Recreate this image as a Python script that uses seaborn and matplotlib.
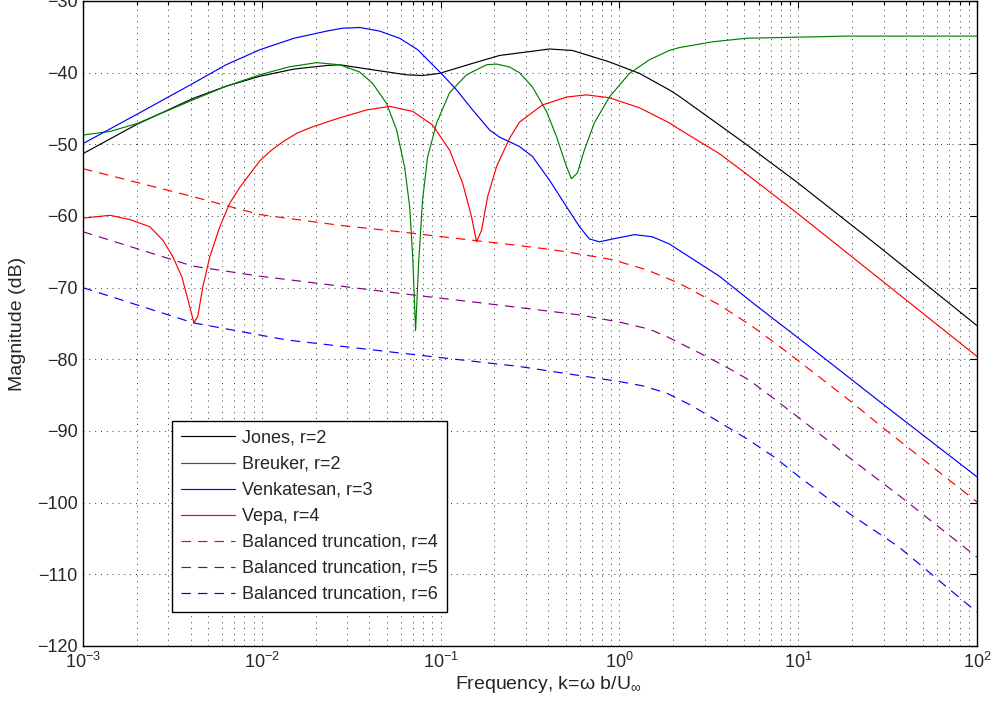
import numpy as np
import matplotlib
matplotlib.use("Agg")
import matplotlib.pyplot as plt
import seaborn as sns

# -------------------------------------------------------------
# Data: log10 of reduced frequency k, magnitude in dB
# -------------------------------------------------------------
jones_logk = [-3.000, -2.698, -2.385, -2.200, -2.011, -1.820, -1.637, -1.564,
              -1.380, -1.190, -1.101, -1.006, -0.821, -0.670, -0.391, -0.263,
              -0.056, 0.112, 0.279, 0.335, 0.559, 0.709, 0.989, 1.453, 2.000]
jones_db = [-51.3, -47.2, -43.6, -41.9, -40.5, -39.5, -39.0, -38.9,
            -39.6, -40.3, -40.4, -40.1, -38.7, -37.6, -36.7, -36.9,
            -38.5, -40.1, -42.4, -43.3, -47.3, -50.0, -55.2, -64.3, -75.3]

breuker_logk = [-3.000, -2.849, -2.698, -2.385, -2.200, -2.011, -1.850, -1.693,
                -1.564, -1.453, -1.380, -1.302, -1.246, -1.201, -1.173, -1.156,
                -1.140, -1.123, -1.101, -1.073, -1.022, -0.950, -0.855, -0.743,
                -0.687, -0.615, -0.559, -0.486, -0.408, -0.352, -0.296, -0.268,
                -0.235, -0.196, -0.140, -0.056, 0.056, 0.168, 0.279, 0.335,
                0.520, 0.709, 1.268, 2.000]
breuker_db = [-48.7, -48.2, -47.1, -43.8, -41.9, -40.3, -39.2, -38.6,
              -38.9, -39.9, -41.5, -44.3, -48.0, -53.2, -58.7, -65.7,
              -76.0, -66.6, -57.8, -51.8, -47.0, -42.8, -40.3, -38.9,
              -38.8, -39.2, -40.0, -42.0, -45.4, -48.9, -53.1, -54.8,
              -54.0, -50.8, -47.0, -43.4, -40.1, -38.2, -36.9, -36.5,
              -35.7, -35.2, -34.9, -34.9]

venk_logk = [-3.000, -2.698, -2.385, -2.200, -2.011, -1.820, -1.637, -1.550,
             -1.450, -1.341, -1.229, -1.128, -0.989, -0.911, -0.821, -0.726,
             -0.670, -0.559, -0.486, -0.391, -0.296, -0.223, -0.168, -0.112,
             -0.017, 0.084, 0.184, 0.279, 0.559, 0.750, 0.989, 1.190, 1.497,
             2.000]
venk_db = [-49.9, -45.8, -41.5, -38.9, -36.8, -35.2, -34.2, -33.8,
           -33.7, -34.2, -35.2, -36.8, -40.3, -42.4, -45.2, -48.0,
           -49.0, -50.3, -51.7, -55.0, -58.7, -61.5, -63.2, -63.6,
           -63.1, -62.6, -62.9, -63.9, -68.4, -72.2, -76.8, -80.7, -86.7,
           -96.4]

vepa_logk = [-3.000, -2.849, -2.737, -2.626, -2.553, -2.497, -2.447, -2.413,
             -2.380, -2.358, -2.330, -2.291, -2.235, -2.179, -2.123, -2.011,
             -1.950, -1.880, -1.800, -1.720, -1.637, -1.564, -1.413, -1.285,
             -1.156, -1.045, -0.950, -0.877, -0.827, -0.799, -0.771, -0.737,
             -0.687, -0.615, -0.559, -0.430, -0.296, -0.184, -0.056, 0.112,
             0.279, 0.335, 0.559, 0.709, 0.989, 2.000]
vepa_db = [-60.3, -59.9, -60.5, -61.5, -63.4, -65.7, -68.5, -71.7,
           -74.9, -74.0, -69.9, -65.7, -61.5, -58.2, -56.0, -52.3,
           -50.9, -49.6, -48.4, -47.6, -46.9, -46.3, -45.2, -44.7,
           -45.4, -47.3, -50.8, -55.4, -60.1, -63.6, -62.0, -57.3,
           -53.1, -49.2, -46.9, -44.5, -43.4, -43.1, -43.5, -44.9,
           -47.0, -47.9, -51.3, -54.1, -59.5, -79.6]

bt4_logk = [-3.000, -2.385, -2.011, -1.564, -1.229, -0.782, -0.670, -0.408,
            -0.296, -0.039, 0.151, 0.240, 0.335, 0.559, 0.743, 0.880,
            1.006, 1.285, 1.492, 2.000]
bt4_db = [-53.4, -57.3, -59.8, -61.3, -62.2, -63.5, -63.8, -64.6,
          -65.0, -66.1, -67.5, -68.4, -69.4, -72.4, -75.4, -77.9,
          -80.3, -85.7, -89.9, -99.9]

bt5_logk = [-3.000, -2.385, -2.011, -1.229, -0.782, -0.223, 0.000, 0.168,
            0.263, 0.447, 0.600, 0.726, 0.860, 1.006, 1.150, 1.285,
            1.564, 2.000]
bt5_db = [-62.2, -67.0, -68.4, -70.8, -72.1, -73.8, -74.8, -75.8,
          -76.8, -79.1, -81.1, -82.9, -85.4, -88.2, -91.0, -93.7,
          -99.0, -107.6]

bt6_logk = [-3.000, -2.385, -1.860, -1.268, -0.559, 0.000, 0.130, 0.263,
            0.400, 0.542, 0.726, 0.870, 1.006, 1.150, 1.285, 1.564, 2.000]
bt6_db = [-70.0, -74.9, -77.3, -79.0, -81.0, -83.1, -83.7, -84.7,
          -86.4, -88.5, -91.3, -93.7, -96.4, -99.1, -101.5, -106.2, -115.3]

series = [
    ("Jones, r=2", jones_logk, jones_db, "black", "-"),
    ("Breuker, r=2", breuker_logk, breuker_db, "#008000", "-"),
    ("Venkatesan, r=3", venk_logk, venk_db, "#0000ff", "-"),
    ("Vepa, r=4", vepa_logk, vepa_db, "#ff0000", "-"),
    ("Balanced truncation, r=4", bt4_logk, bt4_db, "#ff0000", "--"),
    ("Balanced truncation, r=5", bt5_logk, bt5_db, "#800080", "--"),
    ("Balanced truncation, r=6", bt6_logk, bt6_db, "#0000ff", "--"),
]

y_ticks = list(range(-120, -29, 10))

# -------------------------------------------------------------
# Style
# -------------------------------------------------------------
sns.set_theme(style="white")
plt.rcParams["font.family"] = ["Liberation Sans", "DejaVu Sans"]
plt.rcParams["mathtext.fontset"] = "custom"
plt.rcParams["mathtext.rm"] = "Liberation Sans"
plt.rcParams["mathtext.it"] = "Liberation Sans:italic"
plt.rcParams["mathtext.bf"] = "Liberation Sans:bold"

fig = plt.figure(figsize=(9.95, 7.08), dpi=100)
ax = fig.add_axes([83 / 995, 1 - 646 / 708, 894 / 995, 645 / 708])

for label, logk, db, color, ls in series:
    sns.lineplot(x=10.0 ** np.array(logk), y=db, ax=ax, color=color,
                 linewidth=0.85, linestyle=ls, label=label,
                 sort=False, estimator=None)
    if ls == "--":
        ax.lines[-1].set_dashes((8, 6))

ax.set_xscale("log")
ax.set_xlim(1e-3, 1e2)
ax.set_ylim(-120, -30)
ax.set_yticks(y_ticks)

grid_kw = dict(linestyle=(0, (1, 5)), color="0.2", linewidth=0.7)
ax.grid(True, which="major", **grid_kw)
ax.grid(True, which="minor", axis="x", **grid_kw)

ax.tick_params(which="both", direction="in", top=True, right=True,
               labelsize=13, color="black", width=0.8)
ax.tick_params(which="major", length=5, pad=4)
ax.tick_params(which="minor", length=3)
for sp in ax.spines.values():
    sp.set_color("black")
    sp.set_linewidth(1.0)

ax.set_xlabel(r"Frequency, k=ω b/U$_\infty$", fontsize=14, labelpad=2, x=0.52)
ax.set_ylabel("Magnitude (dB)", fontsize=14, labelpad=8)

leg = ax.legend(loc="lower left", bbox_to_anchor=(0.0996, 0.0527),
                borderaxespad=0, fontsize=13, frameon=True, fancybox=False,
                framealpha=1, edgecolor="black", handlelength=3.0,
                handletextpad=0.4, labelspacing=0.5, borderpad=0.5)
leg.get_frame().set_linewidth(1.0)

fig.savefig("out.png", dpi=100)
